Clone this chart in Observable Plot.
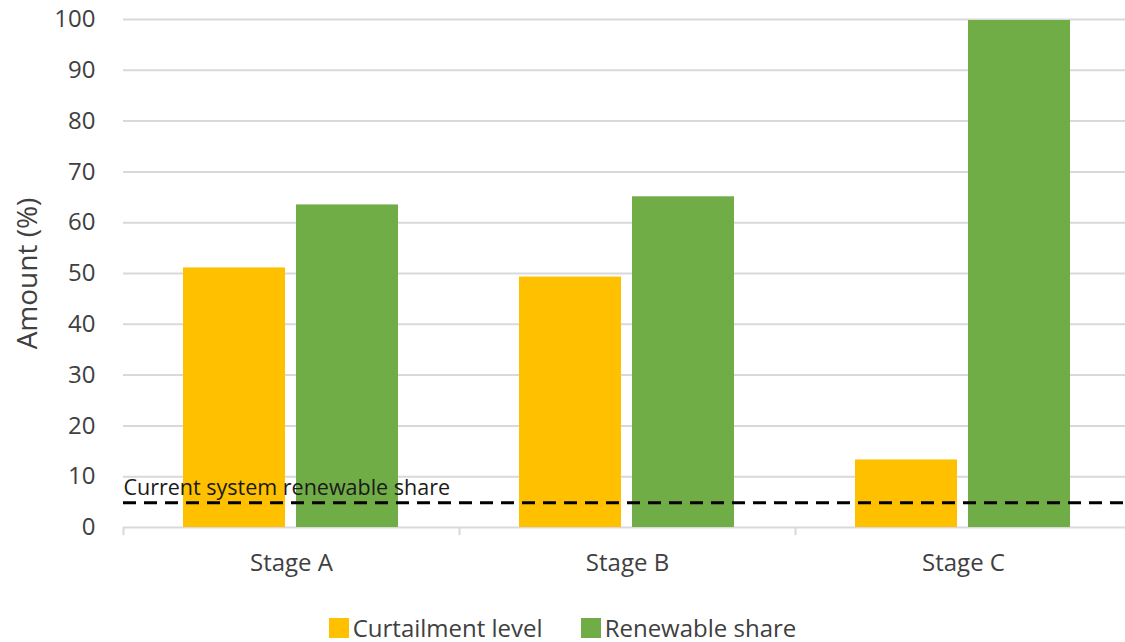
<!DOCTYPE html>
<html>
<head>
<meta charset="utf-8">
<script src="https://cdn.jsdelivr.net/npm/d3@7"></script>
<script src="https://cdn.jsdelivr.net/npm/@observablehq/plot@0.6"></script>
<style>
  html, body { margin: 0; padding: 0; background: #fff; overflow: hidden; }
  body { width: 1125px; height: 642px; font-family: "Open Sans", sans-serif; }
  #chart { width: 1125px; height: 600px; overflow: hidden; }
  #chart svg { display: block; }
  #legend { display: flex; justify-content: center; align-items: center; margin-top: 14px; height: 28px; line-height: 28px; font-size: 24px; color: #404040; }
  .item { display: flex; align-items: center; margin: 0 19px; }
  .sw { width: 20px; height: 20px; margin-right: 4px; }
</style>
</head>
<body>
<div id="chart"></div>
<div id="legend"></div>
<script>
const stages = ["Stage A", "Stage B", "Stage C"];
const series = ["Curtailment level", "Renewable share"];
const curtailment = [51.1, 49.3, 13.3];
const renewable = [63.5, 65.1, 99.8];
const currentShare = 4.85;
const currentShareLabel = "Current system renewable share";
const yTicks = [0, 10, 20, 30, 40, 50, 60, 70, 80, 90, 100];
const colors = ["#FFC000", "#70AD47"];
const yLabel = "Amount (%)";

const rows = [];
stages.forEach((s, i) => {
  rows.push({stage: s, series: series[0], value: curtailment[i]});
  rows.push({stage: s, series: series[1], value: renewable[i]});
});

const W = 1131, ML = 123, MR = 0;
const bw = (W - ML - MR) / stages.length;

const plot = Plot.plot({
  width: W,
  height: 600,
  marginTop: 19,
  marginBottom: 73,
  marginLeft: ML,
  marginRight: MR,
  style: {fontFamily: "Open Sans", fontSize: "24px", color: "#404040", background: "white", maxWidth: "none"},
  fx: {domain: stages, padding: 0, label: null},
  x: {domain: series, paddingInner: 0.0965, paddingOuter: 0.522, axis: null},
  y: {domain: [0, 100]},
  color: {domain: series, range: colors},
  marks: [
    Plot.gridY(yTicks, {stroke: "#d9d9d9", strokeOpacity: 1, strokeWidth: 2}),
    Plot.ruleX(stages, {fx: d => d, x: null, y1: 0, y2: -1.6, dx: -bw / 2, stroke: "#d9d9d9", strokeWidth: 2}),
    Plot.barY(rows, {fx: "stage", x: "series", y: "value", fill: "series"}),
    Plot.ruleY([currentShare], {stroke: "#000", strokeWidth: 3, strokeDasharray: "13,8"}),
    Plot.text([currentShareLabel], {fx: () => stages[0], text: d => d, frameAnchor: "left", y: () => currentShare, textAnchor: "start", lineAnchor: "bottom", dy: -8, fontSize: 21.5, fill: "#1a1a1a"}),
    Plot.axisY(yTicks, {tickSize: 0, tickPadding: 28, fontSize: 24, label: null, fill: "#404040"}),
    Plot.axisY([], {tickSize: 0, label: yLabel, labelAnchor: "center", labelArrow: "none", labelOffset: 106, fontSize: 28, fill: "#404040"}),
    Plot.axisFx({anchor: "bottom", tickSize: 0, tickPadding: 26, fontSize: 24, label: null, fill: "#404040"})
  ]
});
document.getElementById("chart").appendChild(plot);

const legend = document.getElementById("legend");
series.forEach((s, i) => {
  const item = document.createElement("div");
  item.className = "item";
  const sw = document.createElement("div");
  sw.className = "sw";
  sw.style.background = colors[i];
  const t = document.createElement("span");
  t.textContent = s;
  item.appendChild(sw);
  item.appendChild(t);
  legend.appendChild(item);
});
</script>
</body>
</html>
